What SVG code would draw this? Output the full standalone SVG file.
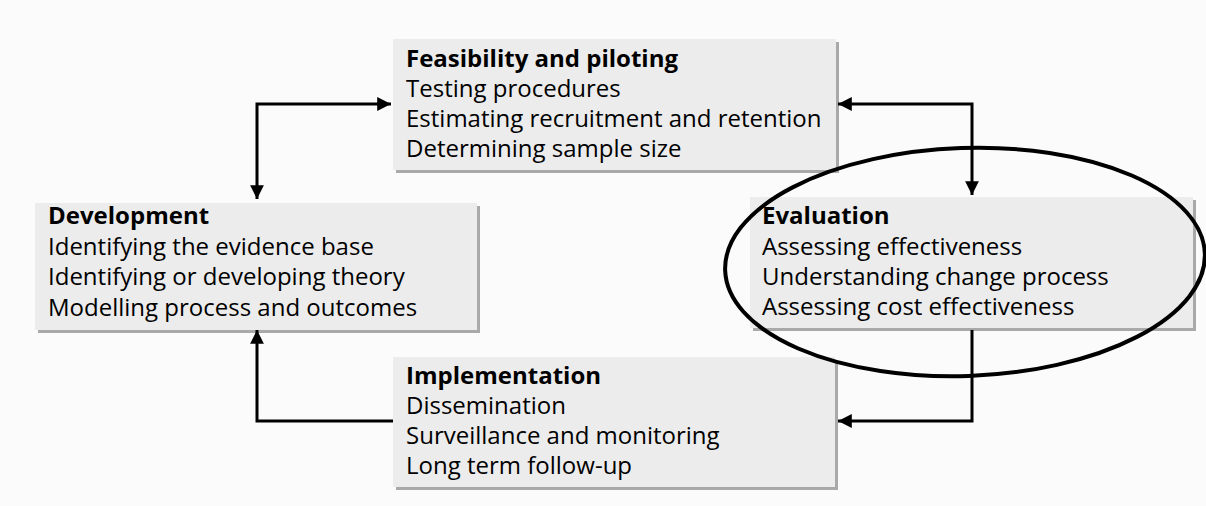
<svg xmlns="http://www.w3.org/2000/svg" width="1206" height="506" viewBox="0 0 1206 506">
  <style>
    .shadow { fill: #a9a9a9; }
    .box { fill: #ececec; }
    .title { font-family: "Open Sans", "Liberation Sans", sans-serif; font-size: 24px; font-weight: bold; fill: #000; }
    .item { font-family: "Open Sans", "Liberation Sans", sans-serif; font-size: 24px; fill: #000; }
    .link { fill: none; stroke: #000; stroke-width: 3; }
  </style>
  <defs>
    <marker id="arrow" viewBox="0 0 10 10" refX="10" refY="5" markerWidth="5.5" markerHeight="4.6" orient="auto-start-reverse" markerUnits="strokeWidth">
      <path d="M0,0 L10,5 L0,10 z" fill="#000"/>
    </marker>
  </defs>

  <rect width="1206" height="506" fill="#fbfbfb"/>

  <!-- Stage boxes -->
  <g id="feasibility">
    <rect class="shadow" x="396" y="42" width="443" height="131"/>
    <rect class="box" x="393" y="39" width="443" height="131"/>
    <text class="title" x="406" y="67">Feasibility and piloting</text>
    <text class="item" x="406" y="97">Testing procedures</text>
    <text class="item" x="406" y="127">Estimating recruitment and retention</text>
    <text class="item" x="406" y="157">Determining sample size</text>
  </g>

  <g id="development">
    <rect class="shadow" x="38" y="206" width="442" height="127"/>
    <rect class="box" x="35" y="203" width="442" height="127"/>
    <text class="title" x="48" y="224">Development</text>
    <text class="item" x="48" y="255">Identifying the evidence base</text>
    <text class="item" x="48" y="285">Identifying or developing theory</text>
    <text class="item" x="48" y="316">Modelling process and outcomes</text>
  </g>

  <g id="evaluation">
    <rect class="shadow" x="753" y="200" width="443" height="131"/>
    <rect class="box" x="750" y="197" width="443" height="131"/>
    <text class="title" x="762" y="224">Evaluation</text>
    <text class="item" x="762" y="255">Assessing effectiveness</text>
    <text class="item" x="762" y="285">Understanding change process</text>
    <text class="item" x="762" y="315">Assessing cost effectiveness</text>
  </g>

  <g id="implementation">
    <rect class="shadow" x="396" y="360" width="442" height="130"/>
    <rect class="box" x="393" y="357" width="442" height="130"/>
    <text class="title" x="406" y="384">Implementation</text>
    <text class="item" x="406" y="414">Dissemination</text>
    <text class="item" x="406" y="444">Surveillance and monitoring</text>
    <text class="item" x="406" y="474">Long term follow-up</text>
  </g>

  <!-- Connectors between stages -->
  <g id="connectors">
    <path class="link" d="M257,199 L257,104 L391,104" marker-start="url(#arrow)" marker-end="url(#arrow)"/>
    <path class="link" d="M838,104 L972,104 L972,195" marker-start="url(#arrow)" marker-end="url(#arrow)"/>
    <path class="link" d="M972,330 L972,421 L838,421" marker-end="url(#arrow)"/>
    <path class="link" d="M393,421 L257,421 L257,330" marker-end="url(#arrow)"/>
  </g>

  <!-- Highlight ring around the evaluation stage -->
  <g id="highlight">
    <ellipse cx="965" cy="262" rx="240" ry="114" transform="rotate(-2 965 262)" fill="none" stroke="#000" stroke-width="4"/>
  </g>
</svg>
